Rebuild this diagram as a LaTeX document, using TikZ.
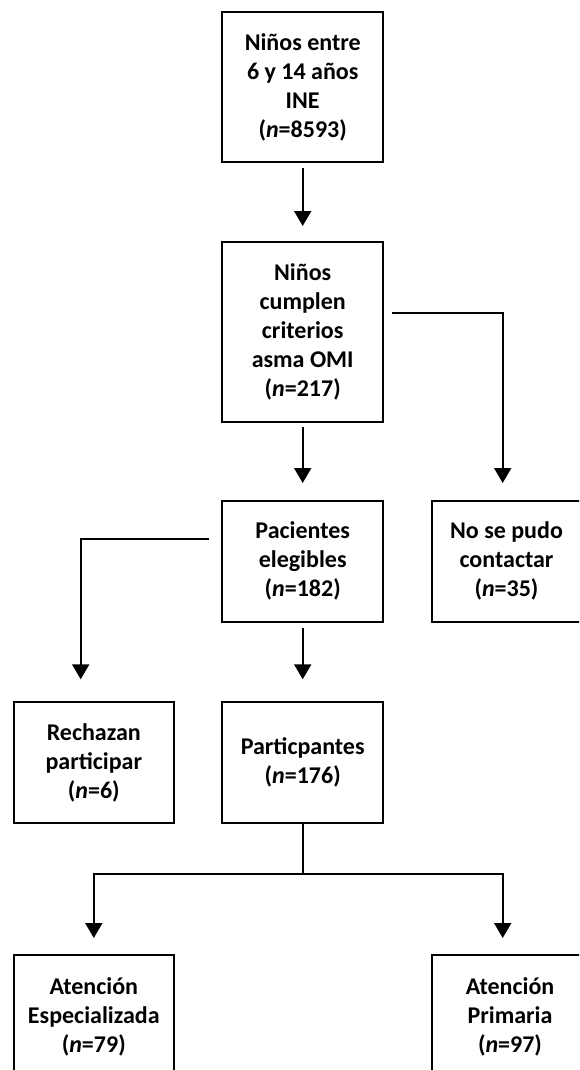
\documentclass[tikz,border=0pt]{standalone}
\usepackage{fontspec}
\setmainfont{Carlito}
\usetikzlibrary{arrows.meta}

\begin{document}
\begin{tikzpicture}[x=1pt,y=-1pt,
  caja/.style={draw,line width=2pt,outer sep=0pt,inner sep=0pt,align=center,
    minimum width=160.5pt,font=\bfseries\fontsize{24}{29}\selectfont},
  flecha/.style={line width=2pt,-{Triangle[width=17pt,length=15pt]}}]
\useasboundingbox (0,0) rectangle (579,1070);
\clip (0,0) rectangle (579,1070);
\node[caja,minimum height=150.3pt] (ine) at (302.7,86.9){Niños entre\\6 y 14 años\\INE\\(\textit{n}=8593)};
\node[caja,minimum height=180pt] (omi) at (302.7,331.7){Niños\\cumplen\\criterios\\asma OMI\\(\textit{n}=217)};
\node[caja,minimum height=121pt] (elegibles) at (302.7,561.2){Pacientes\\elegibles\\(\textit{n}=182)};
\node[caja,minimum width=149pt,minimum height=121pt] (contacto) at (506.5,561.2){No se pudo\\contactar\\(\textit{n}=35)};
\node[caja,minimum height=121.6pt] (rechazan) at (93.8,762.5){Rechazan\\participar\\(\textit{n}=6)};
\node[caja,minimum height=121.6pt] (participantes) at (302.7,762.5){Particpantes\\(\textit{n}=176)};
\node[caja,minimum height=124pt] (especializada) at (93.8,1017){Atención\\Especializada\\(\textit{n}=79)};
\node[caja,minimum width=157pt,minimum height=124pt] (primaria) at (510,1017){Atención\\Primaria\\(\textit{n}=97)};
\draw[flecha,shorten <=6pt,shorten >=15.7pt] (ine) -- (omi);
\draw[flecha,shorten <=5pt,shorten >=17.7pt] (omi) -- (elegibles);
\draw[flecha,shorten >=17.7pt] ([shift={(9.3,-19)}]omi.east) -| ([xshift=-3.8pt]contacto.north);
\draw[flecha,shorten <=6.6pt,shorten >=22.4pt] (elegibles) -- (participantes);
\draw[flecha,shorten >=22.4pt] ([shift={(-13.3,-21.9)}]elegibles.west) -| ([xshift=-13.1pt]rechazan.north);
\path (participantes.south) ++(0,50.7) coordinate (reparto);
\draw[line width=2pt] (participantes.south) -- (reparto);
\draw[flecha,shorten >=17pt] (reparto) -| (especializada.north);
\draw[flecha,shorten >=17pt] (reparto) -| ([xshift=-7.3pt]primaria.north);
\end{tikzpicture}
\end{document}
